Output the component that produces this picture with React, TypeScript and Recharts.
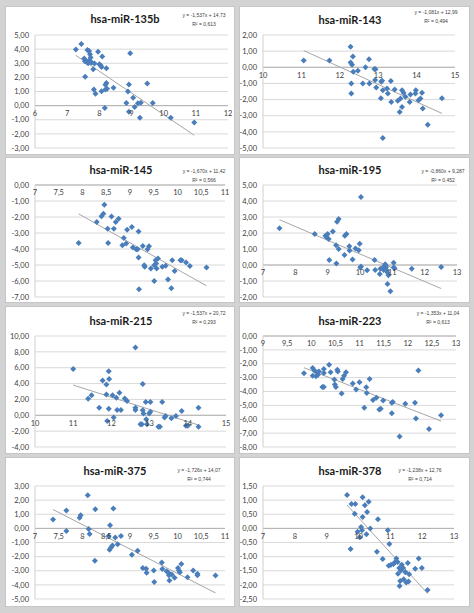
import { ScatterChart, Scatter, XAxis, YAxis, CartesianGrid, ReferenceLine, ReferenceDot } from 'recharts'

// [expression, log value]
const mir135b = [
  [7.27, 3.98], [7.44, 4.37], [7.53, 3.33], [7.58, 3.2], [7.56, 2.05], [7.55, 3.15], [7.6, 3.1], [7.65, 3.0],
  [7.69, 3.2], [7.73, 3.08], [7.63, 3.93], [7.68, 3.86], [7.71, 3.63], [7.73, 3.4], [7.76, 3.05], [7.85, 2.98],
  [7.81, 2.58], [7.96, 3.81], [8.0, 2.93], [8.04, 2.86], [8.09, 3.47], [8.22, 2.65], [8.07, 2.74], [7.83, 1.14],
  [7.88, 0.84], [8.07, 1.02], [8.19, 1.47], [8.22, 1.6], [8.19, 1.14], [8.24, 1.2], [8.17, -0.16], [8.44, 1.26],
  [8.96, 3.7], [8.92, 1.49], [8.89, 1.0], [8.84, 0.19], [8.92, -0.44], [9.05, 0.56], [9.1, -0.09], [9.2, 0.16],
  [9.29, 0.21], [9.26, -0.86], [9.49, 1.56], [9.66, 0.19], [10.22, -0.86], [10.95, -1.19],
]
const mir143 = [
  [11.06, 0.42], [11.73, 0.42], [12.28, 1.27], [12.28, 0.29], [12.34, 0.67], [12.32, 0.15], [12.35, -0.27],
  [12.47, -0.21], [12.3, -1.0], [12.3, -1.63], [12.6, -1.0], [12.67, 0.0], [12.76, 0.5], [12.77, -1.0],
  [12.9, -0.1], [12.93, -0.12], [12.92, -0.79], [12.95, -1.25], [13.08, -0.9], [13.1, -0.83], [13.07, -1.92],
  [13.12, -1.42], [13.23, -1.31], [13.25, -1.63], [13.12, -4.38], [13.33, -0.85], [13.34, -2.15], [13.43, -1.38],
  [13.51, -2.08], [13.56, -2.77], [13.58, -1.94], [13.62, -2.46], [13.62, -1.42], [13.66, -1.58], [13.71, -1.83],
  [13.82, -2.15], [13.84, -1.69], [13.97, -1.63], [13.98, -1.42], [14.05, -2.04], [14.1, -1.94], [14.14, -1.58],
  [14.16, -2.56], [14.29, -3.56], [14.66, -1.92],
]
const mir145 = [
  [7.92, -3.62], [8.3, -2.32], [8.4, -1.95], [8.44, -1.8], [8.46, -1.24], [8.53, -2.73], [8.54, -3.62],
  [8.61, -1.97], [8.66, -2.73], [8.7, -2.32], [8.76, -2.11], [8.87, -3.31], [8.84, -3.77], [8.92, -3.66],
  [8.94, -2.8], [9.04, -2.63], [9.06, -3.91], [9.13, -4.02], [9.16, -4.02], [9.18, -2.9], [9.18, -4.53],
  [9.19, -6.52], [9.27, -3.81], [9.3, -5.01], [9.31, -5.11], [9.37, -4.02], [9.4, -3.83], [9.44, -5.22],
  [9.51, -5.01], [9.51, -6.0], [9.54, -4.7], [9.56, -5.22], [9.59, -4.6], [9.55, -4.91], [9.68, -5.11],
  [9.75, -5.05], [9.8, -5.9], [9.89, -4.7], [9.87, -6.46], [9.94, -5.38], [10.06, -4.7], [10.09, -4.7],
  [10.18, -4.84], [10.26, -5.07], [10.61, -5.16],
]
const mir195 = [
  [7.51, 2.3], [8.6, 1.93], [8.93, 1.83], [8.96, 1.75], [9.0, 1.93], [9.03, 1.62], [9.05, 0.31], [9.16, 2.09],
  [9.26, 1.23], [9.27, 0.1], [9.29, 2.71], [9.34, 2.87], [9.34, 1.0], [9.52, 0.62], [9.53, 1.83], [9.58, 1.93],
  [9.67, 1.17], [9.68, 0.9], [9.77, 0.35], [9.86, 1.03], [9.96, 0.92], [9.99, 1.33], [10.03, 4.25],
  [10.01, -0.16], [10.03, -0.1], [10.22, -0.33], [10.45, 0.31], [10.47, -0.31], [10.61, -0.57], [10.63, -0.23],
  [10.71, -0.16], [10.73, -0.31], [10.78, 0.04], [10.8, -0.16], [10.82, -0.31], [10.85, -0.47], [10.88, -0.64],
  [10.85, -1.19], [10.94, -1.64], [11.04, 0.14], [11.04, -0.16], [11.07, -0.21], [11.6, -0.23], [12.51, -0.12],
  [10.76, -0.2], [10.8, -0.05],
]
const mir215 = [
  [11.0, 5.83], [11.39, 2.08], [11.48, 2.54], [11.68, 0.96], [11.77, 4.38], [11.87, 3.88], [11.87, 2.63],
  [11.89, -0.71], [11.93, 5.54], [11.94, 4.58], [11.93, 0.83], [12.03, 2.54], [12.06, -0.29], [12.13, 2.21],
  [12.15, 0.67], [12.21, 2.83], [12.25, 0.67], [12.35, 2.13], [12.41, 1.79], [12.63, 8.54], [12.63, 0.96],
  [12.63, 0.67], [12.76, -1.13], [12.8, -1.13], [12.82, 3.96], [12.82, 0.63], [12.84, 0.21], [12.9, 1.67],
  [12.91, -0.5], [12.93, -1.13], [12.99, 0.21], [13.02, 1.67], [13.02, 0.46], [13.23, -1.46], [13.27, -1.46],
  [13.33, 1.67], [13.39, -0.29], [13.42, -0.08], [13.57, -0.38], [13.69, -0.08], [13.84, 0.54], [13.95, -1.33],
  [14.0, -1.33], [14.28, -1.46], [14.28, 0.96],
]
const mir223 = [
  [9.85, -2.68], [10.03, -2.31], [10.03, -2.86], [10.07, -2.5], [10.1, -2.9], [10.12, -2.62], [10.14, -2.79],
  [10.16, -2.55], [10.23, -3.67], [10.26, -3.67], [10.26, -2.38], [10.26, -2.67], [10.37, -2.07], [10.4, -2.62],
  [10.48, -3.14], [10.49, -3.5], [10.51, -3.67], [10.54, -2.43], [10.55, -2.55], [10.63, -4.14], [10.65, -3.1],
  [10.68, -2.86], [10.72, -2.62], [10.86, -3.43], [10.93, -3.86], [11.0, -3.33], [11.1, -5.17], [11.14, -3.69],
  [11.15, -4.1], [11.21, -3.1], [11.28, -4.62], [11.35, -4.45], [11.41, -5.29], [11.44, -5.24], [11.49, -4.64],
  [11.67, -4.81], [11.67, -5.57], [11.69, -4.76], [11.83, -7.24], [11.95, -4.88], [12.15, -4.81],
  [12.17, -5.95], [12.22, -2.48], [12.44, -6.71], [12.69, -5.71],
]
const mir375 = [
  [7.38, 0.63], [7.66, 1.26], [7.66, -0.19], [7.94, 0.75], [7.96, 0.93], [8.11, 2.34], [8.13, -0.05],
  [8.15, -0.4], [8.26, -2.29], [8.27, 1.36], [8.55, -0.54], [8.57, -1.52], [8.6, -1.36], [8.63, -1.21],
  [8.58, 0.23], [8.65, 1.4], [8.69, -0.65], [8.74, -1.12], [8.81, -0.54], [9.04, -1.87], [9.16, -1.59],
  [9.27, -2.8], [9.34, -2.85], [9.35, -3.15], [9.5, -2.99], [9.51, -3.79], [9.67, -2.41], [9.68, -2.87],
  [9.77, -3.04], [9.81, -3.15], [9.82, -3.32], [9.83, -3.69], [9.88, -3.27], [9.94, -3.5], [10.01, -2.8],
  [10.03, -2.99], [10.05, -3.11], [10.08, -2.52], [10.21, -3.46], [10.33, -2.99], [10.42, -3.22],
  [10.42, -3.32], [10.8, -3.34],
]
const mir378 = [
  [9.64, 1.18], [9.75, -0.73], [9.78, 0.86], [9.9, 0.86], [9.88, 0.52], [9.97, -0.12], [10.04, -0.31],
  [10.08, 0.05], [10.11, -0.07], [10.13, 1.1], [10.13, 0.4], [10.2, 0.82], [10.25, -0.21], [10.27, 0.58],
  [10.32, 0.94], [10.37, 0.0], [10.58, -0.83], [10.61, 0.32], [10.76, -1.08], [10.92, -0.07], [10.97, -0.55],
  [10.95, -1.32], [11.02, -1.29], [11.1, -1.26], [11.15, -1.19], [11.19, -1.07], [11.23, -1.19], [11.24, -1.61],
  [11.28, -1.4], [11.29, -2.04], [11.31, -1.86], [11.33, -1.49], [11.36, -1.29], [11.42, -1.8], [11.4, -1.4],
  [11.47, -1.55], [11.5, -1.92], [11.57, -1.88], [11.55, -1.23], [11.59, -1.62], [11.78, -1.43], [11.89, -1.07],
  [11.99, -1.4], [12.17, -2.18],
]

// axis ticks
const x6to12 = [6, 7, 8, 9, 10, 11, 12]
const x10to15 = [10, 11, 12, 13, 14, 15]
const x7to11 = [7, 7.5, 8, 8.5, 9, 9.5, 10, 10.5, 11]
const x7to13 = [7, 8, 9, 10, 11, 12, 13]
const x9to13 = [9, 9.5, 10, 10.5, 11, 11.5, 12, 12.5, 13]
const yM3to5 = [-3, -2, -1, 0, 1, 2, 3, 4, 5]
const yM5to2 = [-5, -4, -3, -2, -1, 0, 1, 2]
const yM7to0 = [-7, -6, -5, -4, -3, -2, -1, 0]
const yM2to5 = [-2, -1, 0, 1, 2, 3, 4, 5]
const yM4to10 = [-4, -2, 0, 2, 4, 6, 8, 10]
const yM8to0 = [-8, -7, -6, -5, -4, -3, -2, -1, 0]
const yM5to3 = [-5, -4, -3, -2, -1, 0, 1, 2, 3]
const yM25to15 = [-2.5, -2, -1.5, -1, -0.5, 0, 0.5, 1, 1.5]

const panels = [
  { title: 'hsa-miR-135b', points: mir135b, slope: -1.537, intercept: 14.73, eq: 'y = -1,537x + 14,73', r2: 'R² = 0,613', xTicks: x6to12, yTicks: yM3to5, col: 0, row: 0, right: 6, tx: 119, ty: 12, ex: 198, ey: 8 },
  { title: 'hsa-miR-143', points: mir143, slope: -1.081, intercept: 12.99, eq: 'y = -1,081x + 12,99', r2: 'R² = 0,494', xTicks: x10to15, yTicks: yM5to2, col: 1, row: 0, right: 14, tx: 110, ty: 13, ex: 196, ey: 5 },
  { title: 'hsa-miR-145', points: mir145, slope: -1.67, intercept: 11.42, eq: 'y = -1,670x + 11,42', r2: 'R² = 0,566', xTicks: x7to11, yTicks: yM7to0, col: 0, row: 1, right: 9, tx: 115, ty: 12, ex: 198, ey: 13 },
  { title: 'hsa-miR-195', points: mir195, slope: -0.86, intercept: 9.287, eq: 'y = -0,860x + 9,287', r2: 'R² = 0,452', xTicks: x7to13, yTicks: yM2to5, col: 1, row: 1, right: 12, tx: 110, ty: 12, ex: 203, ey: 13 },
  { title: 'hsa-miR-215', points: mir215, slope: -1.537, intercept: 20.72, eq: 'y = -1,537x + 20,72', r2: 'R² = 0,293', xTicks: x10to15, yTicks: yM4to10, col: 0, row: 2, right: 8, tx: 115, ty: 14, ex: 198, ey: 6 },
  { title: 'hsa-miR-223', points: mir223, slope: -1.353, intercept: 11.04, eq: 'y = -1,353x + 11,04', r2: 'R² = 0,613', xTicks: x9to13, yTicks: yM8to0, col: 1, row: 2, right: 13, tx: 110, ty: 14, ex: 198, ey: 6 },
  { title: 'hsa-miR-375', points: mir375, slope: -1.726, intercept: 14.07, eq: 'y = -1,726x + 14,07', r2: 'R² = 0,744', xTicks: x7to11, yTicks: yM5to3, col: 0, row: 3, right: 9, tx: 109, ty: 13, ex: 193, ey: 12 },
  { title: 'hsa-miR-378', points: mir378, slope: -1.238, intercept: 12.76, eq: 'y = -1,238x + 12,76', r2: 'R² = 0,714', xTicks: x7to13, yTicks: yM25to15, col: 1, row: 3, right: 15, tx: 110, ty: 13, ex: 180, ey: 12 },
]

const cols = [
  { left: 6, width: 228, axisW: 29 },
  { left: 240, width: 229, axisW: 23 },
]
const rows = [
  { top: 7, plotTop: 35, plotBottom: 148, bottom: 154 },
  { top: 158, plotTop: 185, plotBottom: 297, bottom: 302 },
  { top: 307, plotTop: 336, plotBottom: 447, bottom: 453 },
  { top: 458, plotTop: 486, plotBottom: 599, bottom: 606 },
]

const FONT = 'Lato, "Open Sans", sans-serif'
const BLUE = '#4a7ebb'

const fmt = (v: number) => v.toFixed(2).replace('.', ',')

const Diamond = (props: any) => {
  const { cx, cy } = props
  const s = 3
  return <polygon points={`${cx},${cy - s} ${cx + s},${cy} ${cx},${cy + s} ${cx - s},${cy}`} fill={BLUE} />
}

function Panel({ spec }: { spec: typeof panels[number] }) {
  const col = cols[spec.col]
  const row = rows[spec.row]
  const h = row.bottom - row.top
  const xs = spec.points.map(p => p[0])
  const x1 = Math.min(...xs)
  const x2 = Math.max(...xs)
  const data = spec.points.map(([x, y]) => ({ x, y }))
  const xDomain = [spec.xTicks[0], spec.xTicks[spec.xTicks.length - 1]]
  const yDomain = [spec.yTicks[0], spec.yTicks[spec.yTicks.length - 1]]

  return (
    <div style={{ position: 'absolute', left: col.left, top: row.top, width: col.width, height: h, background: '#fff', overflow: 'hidden', boxShadow: '0 0 0 1px #c6c6c6' }}>
      <ScatterChart
        width={col.width}
        height={h}
        margin={{ top: row.plotTop - row.top, right: spec.right, bottom: row.bottom - row.plotBottom, left: 0 }}
      >
        <CartesianGrid vertical={false} stroke="#d9d9d9" />
        <XAxis type="number" dataKey="x" domain={xDomain} ticks={spec.xTicks} hide allowDataOverflow />
        <YAxis
          type="number"
          dataKey="y"
          domain={yDomain}
          ticks={spec.yTicks}
          interval={0}
          width={col.axisW}
          tickFormatter={fmt}
          tickLine={false}
          tickSize={4}
          axisLine={{ stroke: '#d0d0d0' }}
          tick={{ fontSize: 7.5, fill: '#404040', fontFamily: FONT }}
          allowDataOverflow
        />
        <ReferenceLine y={0} stroke="#b0b0b0" />
        {spec.xTicks.map(t => (
          <ReferenceDot
            key={t}
            x={t}
            y={0}
            r={0}
            stroke="none"
            ifOverflow="visible"
            label={{ value: String(t).replace('.', ','), position: 'bottom', offset: 5, fontSize: 7.5, fill: '#404040', fontFamily: FONT }}
          />
        ))}
        <ReferenceLine
          segment={[
            { x: x1, y: spec.slope * x1 + spec.intercept },
            { x: x2, y: spec.slope * x2 + spec.intercept },
          ]}
          stroke="#a6a6a6"
          strokeWidth={1}
          ifOverflow="visible"
        />
        <Scatter data={data} shape={Diamond} isAnimationActive={false} />
      </ScatterChart>
      <div style={{ position: 'absolute', left: spec.tx - 60, width: 120, top: spec.ty - 8, textAlign: 'center', fontFamily: FONT, fontWeight: 700, fontSize: 11, lineHeight: '16px', color: '#1a1a1a' }}>
        {spec.title}
      </div>
      <div style={{ position: 'absolute', left: spec.ex - 40, width: 80, top: spec.ey - 4, textAlign: 'center', fontFamily: '"Liberation Sans", sans-serif', fontSize: 5, lineHeight: '9px', color: '#404040', whiteSpace: 'nowrap' }}>
        <div>{spec.eq}</div>
        <div>{spec.r2}</div>
      </div>
    </div>
  )
}

export default function App() {
  return (
    <div style={{ position: 'absolute', left: 0, top: 0, width: 474, height: 613, background: '#d3d3d3', overflow: 'hidden' }}>
      {panels.map(p => <Panel key={p.title} spec={p} />)}
    </div>
  )
}
